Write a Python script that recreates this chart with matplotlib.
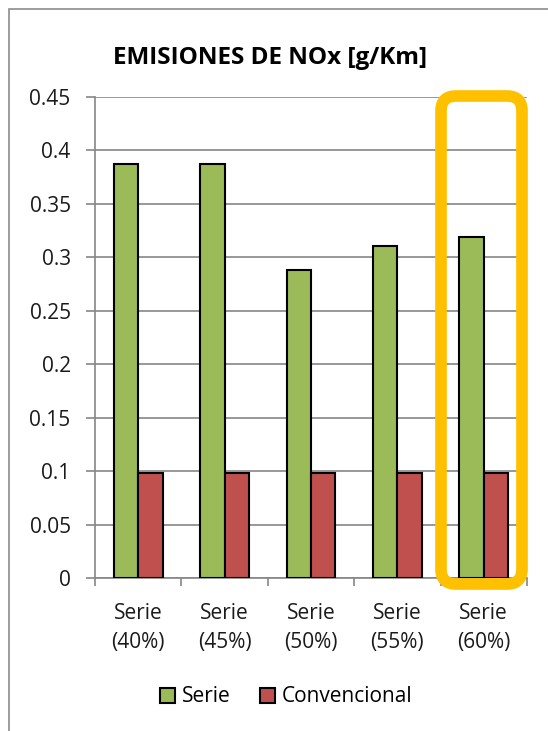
import matplotlib
matplotlib.use("Agg")
import matplotlib.pyplot as plt
import numpy as np
from matplotlib.patches import FancyBboxPatch, Rectangle

categories = ["Serie\n(40%)", "Serie\n(45%)", "Serie\n(50%)", "Serie\n(55%)", "Serie\n(60%)"]
serie = [0.387, 0.387, 0.288, 0.311, 0.319]
convencional = [0.098, 0.098, 0.098, 0.098, 0.098]
yticks = [0, 0.05, 0.1, 0.15, 0.2, 0.25, 0.3, 0.35, 0.4, 0.45]
ytick_labels = ["0", "0.05", "0.1", "0.15", "0.2", "0.25", "0.3", "0.35", "0.4", "0.45"]

plt.rcParams['font.family'] = ['Open Sans', 'DejaVu Sans']

W, H = 548, 731
fig = plt.figure(figsize=(W/100, H/100), dpi=100)
fig.patch.set_facecolor("white")

def px(xp, yp):
    # pixel (from top-left) -> inches (from bottom-left)
    return xp/100, (H - yp)/100

# outer chart border
fig.patches.append(Rectangle(px(9, 760), 6.0, (760-9)/100, transform=fig.dpi_scale_trans,
                             fill=False, edgecolor="#8c8c8c", linewidth=1.2))

ax = fig.add_axes([95/W, 1 - 578/H, (527-95)/W, (578-97)/H])
x = np.arange(len(categories))
bw = 0.283
grid_c = "#868686"
ax.bar(x - bw/2, serie, bw, color="#9BBB59", edgecolor="black", linewidth=1.5, label="Serie", zorder=3)
ax.bar(x + bw/2, convencional, bw, color="#C0504D", edgecolor="black", linewidth=1.5, label="Convencional", zorder=3)

ax.set_xlim(-0.5, len(categories) - 0.5)
ax.set_ylim(0, 0.45)
ax.set_yticks(yticks)
ax.set_yticklabels(ytick_labels, fontsize=15, color="#1a1a1a")
ax.set_xticks(x)
ax.set_xticklabels(categories, fontsize=15, color="#1a1a1a", linespacing=1.5)
ax.set_xticks(np.arange(len(categories) + 1) - 0.5, minor=True)
ax.tick_params(axis="x", which="major", length=0, pad=18)
ax.tick_params(axis="x", which="minor", length=6, width=1.2, color=grid_c)
ax.tick_params(axis="y", length=6.5, width=1.2, color=grid_c, pad=11)
ax.grid(axis="y", color=grid_c, linewidth=1.2, zorder=0)
for s in ["top", "right"]:
    ax.spines[s].set_visible(False)
for s in ["left", "bottom"]:
    ax.spines[s].set_color(grid_c)
    ax.spines[s].set_linewidth(1.2)

# highlight box around last category
x0, y0 = px(441, 584)
box = FancyBboxPatch((x0, y0), (522-441)/100, (584-96)/100,
                     boxstyle="round,pad=0,rounding_size=0.15",
                     transform=fig.dpi_scale_trans, fill=False, edgecolor="#FFC000",
                     linewidth=8.4, zorder=10)
fig.patches.append(box)

fig.text(270/W, 1 - 58/H, "EMISIONES DE NOx [g/Km]", ha="center", va="center",
         fontsize=17.5, fontweight="bold", color="black")

leg = fig.legend(loc="center", bbox_to_anchor=(286/W, 1 - 697/H), ncol=2, frameon=False,
                 fontsize=15, handlelength=0.75, handleheight=0.75, handletextpad=0.3,
                 columnspacing=1.4)

fig.savefig("out.png", dpi=100)
